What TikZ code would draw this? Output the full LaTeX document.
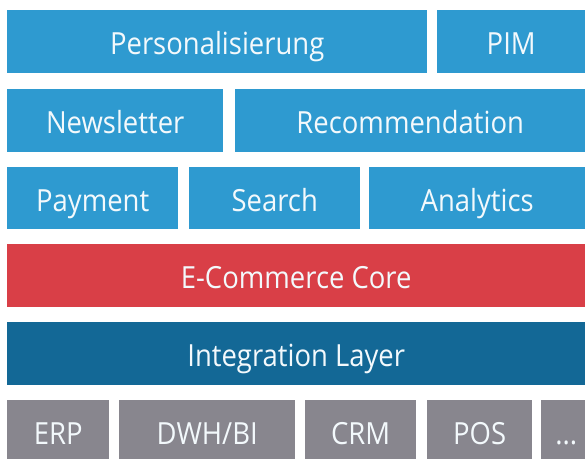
\documentclass[tikz,border=0pt]{standalone}
\usepackage{fontspec}
\setmainfont[FakeStretch=0.9]{Open Sans}
\usepackage{tikz}
\usetikzlibrary{positioning}

\definecolor{modblue}{RGB}{46,154,208}
\definecolor{corered}{RGB}{217,63,71}
\definecolor{layerblue}{RGB}{19,104,150}
\definecolor{sysgrey}{RGB}{136,134,142}

\begin{document}
\begin{tikzpicture}[x=1pt,y=-1pt,
% Tile styles
    tile/.style={rectangle,anchor=north west,inner sep=0pt,
		minimum height=62.7pt,text height=26pt,text depth=0pt,
		text=white!94!modblue,font=\fontsize{30.5}{33}\selectfont},
    module/.style={tile,fill=modblue},
    core/.style={tile,fill=corered},
    layer/.style={tile,fill=layerblue},
    system/.style={tile,fill=sysgrey}
    ]
    \useasboundingbox (0,0) rectangle (585,458);
%% Modules
    \node [module,minimum width=420] (pers)  at (7,10)    {Personalisierung};
    \node [module,minimum width=148] (pim)   at (437,10)  {PIM};
    \node [module,minimum width=216] (news)  at (7,89)    {Newsletter};
    \node [module,minimum width=350] (reco)  at (235,89)  {Recommendation};
    \node [module,minimum width=171] (pay)   at (7,166.5) {Payment};
    \node [module,minimum width=171] (srch)  at (189,166.5) {Search};
    \node [module,minimum width=216] (anal)  at (369,166.5) {Analytics};
%% Core and integration
    \node [core,minimum width=578]  (core)  at (7,244)   {E-Commerce Core};
    \node [layer,minimum width=578] (integ) at (7,322)   {Integration Layer};
%% Backend systems
    \node [system,minimum width=102] (erp)  at (7,400)   {ERP};
    \node [system,minimum width=176] (dwh)  at (119,400) {DWH/BI};
    \node [system,minimum width=111] (crm)  at (305,400) {CRM};
    \node [system,minimum width=105] (pos)  at (427,400) {POS};
    \node [system,minimum width=50]  (more) at (541,400) {...};
\end{tikzpicture}
\end{document}
